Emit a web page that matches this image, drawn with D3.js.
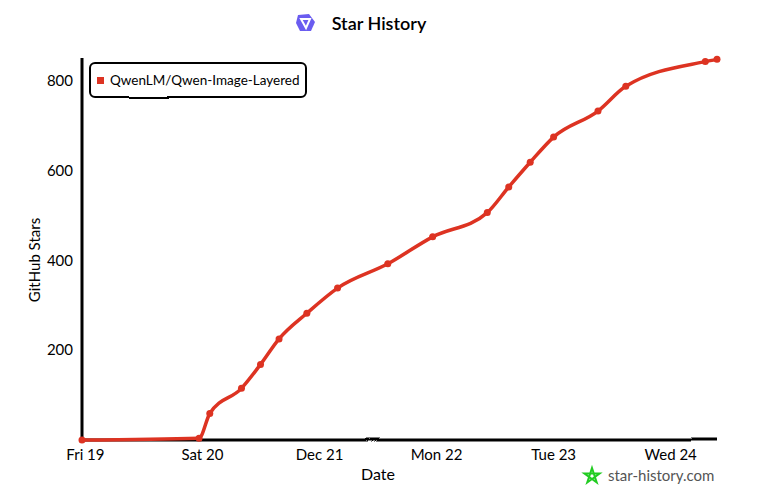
<!DOCTYPE html>
<html>
<head>
    <meta charset="utf-8">
    <title>Star History</title>
    <style>
        body { margin: 0; background: #fff; }
        text { font-family: "xkcd", "Humor Sans", "Comic Sans MS", Lato, sans-serif; }
    </style>
</head>
<body>

    <script src="https://d3js.org/d3.v7.min.js"></script>
    <script type="text/javascript">

    var repo = "QwenLM/Qwen-Image-Layered";

    // star counts
    var dates = ["2025-12-18T23:24", "2025-12-19T23:24", "2025-12-20T01:36", "2025-12-20T08:06",
                 "2025-12-20T12:00", "2025-12-20T15:48", "2025-12-20T21:30", "2025-12-21T03:48",
                 "2025-12-21T14:06", "2025-12-21T23:18", "2025-12-22T10:30", "2025-12-22T14:54",
                 "2025-12-22T19:18", "2025-12-23T00:06", "2025-12-23T09:12", "2025-12-23T14:54",
                 "2025-12-24T07:12", "2025-12-24T09:36"];
    var stars = [0, 4, 59, 115, 168, 225, 282, 338, 392, 452, 506, 563, 618, 674, 732, 787, 842, 847];

    var yTicks = [200, 400, 600, 800];
    var xTickLabels = ["Fri 19", "Sat 20", "Dec 21", "Mon 22", "Tue 23", "Wed 24"];
    var xTickDates = ["2025-12-19", "2025-12-20", "2025-12-21", "2025-12-22", "2025-12-23", "2025-12-24"];

    var W = 783, H = 496;
    var margin = {top: 58, right: 66, bottom: 56, left: 82},
        width  = W - margin.left - margin.right,
        height = H - margin.top - margin.bottom;

    var parseTime = d3.timeParse("%Y-%m-%dT%H:%M");
    var parseDay = d3.timeParse("%Y-%m-%d");

    var data = dates.map(function(d, i) { return {date: parseTime(d), stars: stars[i]}; });

    var x = d3.scaleTime().range([0, width])
        .domain(d3.extent(data, function(d) { return d.date; }));
    var y = d3.scaleLinear().range([height, 0]).domain([0, 850]);

    var svg = d3.select("body")
        .append("svg")
        .attr("width", W)
        .attr("height", H);

    // hand drawn wobble, kept gentle so thin strokes don't break
    var filter = svg.append("defs").append("filter").attr("id", "xkcdify")
        .attr("filterUnits", "userSpaceOnUse")
        .attr("x", -200).attr("y", -200).attr("width", 1200).attr("height", 900);
    filter.append("feTurbulence").attr("type", "fractalNoise")
        .attr("baseFrequency", 0.012).attr("numOctaves", 1).attr("result", "noise");
    filter.append("feDisplacementMap").attr("scale", 2.5).attr("xChannelSelector", "R")
        .attr("yChannelSelector", "G").attr("in", "SourceGraphic").attr("in2", "noise");

    // title
    svg.append("text")
        .attr("x", 379).attr("y", 24)
        .attr("text-anchor", "middle")
        .attr("dy", "0.35em")
        .style("font-size", "18px")
        .style("font-weight", "600")
        .text("Star History");
    var icon = svg.append("g").attr("transform", "translate(306,23)");
    icon.append("path")
        .attr("d", "M-8,-8 L3,-9 L9,-1 L5,8 L-6,8 L-10,0 Z")
        .style("fill", "#6a5cf0");
    icon.append("path")
        .attr("d", "M-5,-4 L4,-4 L0,5 Z")
        .style("fill", "none").style("stroke", "#fff").style("stroke-width", 2);

    var chart = svg.append("g")
        .attr("transform", "translate(" + margin.left + "," + margin.top + ")");

    // axes
    var xAxis = chart.append("g")
        .attr("transform", "translate(0," + height + ")")
        .call(d3.axisBottom(x).tickValues(xTickDates.map(parseDay)).tickSize(0)
              .tickFormat(function(d, i) { return xTickLabels[i]; }));
    xAxis.select(".domain").attr("d", "M0,0H" + width)
        .style("stroke-width", 3).attr("filter", "url(#xkcdify)");
    xAxis.selectAll("text").attr("dy", "1.1em").style("font-size", "15px");

    var yAxis = chart.append("g")
        .call(d3.axisLeft(y).tickValues(yTicks).tickSize(0));
    yAxis.select(".domain").attr("d", "M0," + height + "V0")
        .style("stroke-width", 3).attr("filter", "url(#xkcdify)");
    yAxis.selectAll("text").attr("x", -9).style("font-size", "15px");

    svg.append("text")
        .attr("transform", "translate(40,260) rotate(-90)")
        .attr("text-anchor", "middle")
        .style("font-size", "15px")
        .text("GitHub Stars");

    svg.append("text")
        .attr("x", 378).attr("y", 480)
        .attr("text-anchor", "middle")
        .style("font-size", "16px")
        .text("Date");

    // the line
    var line = d3.line()
        .x(function(d) { return x(d.date); })
        .y(function(d) { return y(d.stars); })
        .curve(d3.curveMonotoneX);

    chart.append("path")
        .datum(data)
        .attr("d", line)
        .style("stroke", "#dd3322")
        .style("stroke-width", "3.5px")
        .style("stroke-linejoin", "round")
        .style("fill", "none");

    chart.selectAll(".dot")
        .data(data)
        .enter().append("circle")
        .attr("cx", function(d) { return x(d.date); })
        .attr("cy", function(d) { return y(d.stars); })
        .attr("r", 3.5)
        .style("fill", "#dd3322");

    // legend
    var legend = svg.append("g").attr("transform", "translate(90,63)");
    legend.append("rect")
        .attr("width", 216).attr("height", 34).attr("rx", 5)
        .attr("filter", "url(#xkcdify)")
        .style("fill", "#fff").style("stroke", "#000").style("stroke-width", 2);
    legend.append("rect")
        .attr("x", 7).attr("y", 14).attr("width", 7).attr("height", 7)
        .style("fill", "#dd3322");
    legend.append("text")
        .attr("x", 20).attr("y", 17).attr("dy", "0.35em")
        .style("font-size", "13.5px")
        .text(repo);

    // watermark
    var star = svg.append("g").attr("transform", "translate(592,476)");
    var pts = d3.range(5).map(function(i) {
        var a = -Math.PI / 2 + i * 4 * Math.PI / 5;
        return [8 * Math.cos(a), 8 * Math.sin(a)];
    });
    star.append("path")
        .attr("d", "M" + pts.join("L") + "Z")
        .style("fill", "none").style("stroke", "#22cc22").style("stroke-width", 2);
    svg.append("text")
        .attr("x", 608).attr("y", 476).attr("dy", "0.35em")
        .style("font-size", "15px")
        .style("fill", "#555")
        .text("star-history.com");

    </script>
</body>
</html>
